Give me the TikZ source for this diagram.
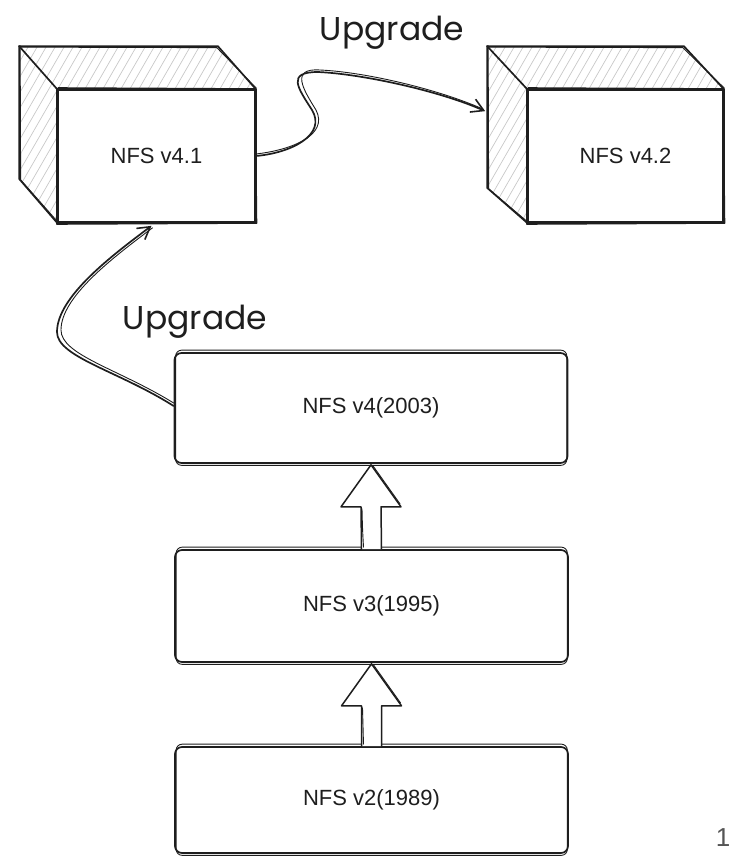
\documentclass[tikz,border=0pt]{standalone}
\usepackage{fontspec}
\setmainfont{Liberation Sans}
\newfontfamily\handfont{Poppins}
\usetikzlibrary{calc,arrows.meta}
\definecolor{ink}{HTML}{1E1E1E}
\definecolor{hatchgray}{HTML}{C8C8C8}
\definecolor{pagegray}{HTML}{555555}
\tikzset{
  pen/.style={draw=ink, line width=1.7pt, line join=round, line cap=round},
  penthin/.style={draw=ink, line width=0.9pt, line join=round, line cap=round},
  boxtext/.style={font=\fontsize{22}{26}\selectfont, text=ink},
  face/.style={pen, fill=white, boxtext, minimum width=197pt, minimum height=132pt, inner sep=0pt},
  stage/.style={pen, rounded corners=7pt, fill=white, boxtext, minimum width=393pt, minimum height=110pt, inner sep=0pt},
  hatchline/.style={draw=hatchgray, line width=0.7pt},
  handlabel/.style={font=\handfont\fontsize{33}{40}\selectfont, text=ink},
  flow/.style={pen, -{Straight Barb[length=12pt,width=14pt,line width=1.6pt]}},
  flowecho/.style={penthin},
  blockarrow/.style={pen, fill=white, line width=1.5pt},
}
\begin{document}
\begin{tikzpicture}[x=1pt,y=-1pt]
\useasboundingbox (0,0) rectangle (733,857);

% ---------- cube faces (front faces are nodes) ----------
\node[face] (v41) at (156.5,156) {};
\node[face, minimum width=195pt] (v42) at (625.5,156) {};

% back corners of the two cubes
\coordinate (a1) at ($(v41.north west)+(-38,-43)$);
\coordinate (b1) at ($(v41.north east)+(-38,-43)$);
\coordinate (c1) at ($(v41.south west)+(-38,-44)$);
\coordinate (a2) at ($(v42.north west)+(-40,-43)$);
\coordinate (b2) at ($(v42.north east)+(-40,-43)$);
\coordinate (c2) at ($(v42.south west)+(-40,-35)$);

% hatching of the top and side faces
\begin{scope}
  \clip (a1) -- (b1) -- (v41.north east) -- (v41.north west) -- cycle
        (a1) -- (v41.north west) -- (v41.south west) -- (c1) -- cycle
        (a2) -- (b2) -- (v42.north east) -- (v42.north west) -- cycle
        (a2) -- (v42.north west) -- (v42.south west) -- (c2) -- cycle;
  \foreach \i in {-170,-161,...,760}
    \draw[hatchline] (\i,250) -- ++(150,-260);
\end{scope}

% cube outlines, drawn twice for a sketched stroke
\foreach \c/\a/\b/\d in {v41/a1/b1/c1, v42/a2/b2/c2}{
  \draw[pen] (\a) -- (\b) -- (\c.north east);
  \draw[pen] (\a) -- (\c.north west);
  \draw[pen] (\a) -- (\d) -- (\c.south west);
  \draw[penthin] ($(\a)+(1.5,1)$) -- ($(\b)+(-1,1.5)$) -- ($(\c.north east)+(0.5,-1)$);
  \draw[penthin] ($(\a)+(1,-0.5)$) -- ($(\d)+(1.5,1)$) -- ($(\c.south west)+(1,-0.5)$);
  \draw[pen] (\c.north west) rectangle (\c.south east);
  \draw[penthin] ($(\c.north west)+(1,-1.5)$) -- ($(\c.north east)+(-0.5,-0.5)$) -- ($(\c.south east)+(1,0.5)$) -- ($(\c.south west)+(-0.5,1.5)$) -- cycle;
}
\node[boxtext] at (v41) {NFS v4.1};
\node[boxtext] at (v42) {NFS v4.2};

% ---------- version stages ----------
\node[stage] (v4) at (371,408) {NFS v4(2003)};
\node[stage, minimum height=112pt] (v3) at (371.5,606) {NFS v3(1995)};
\node[stage, minimum height=106pt] (v2) at (371.5,800) {NFS v2(1989)};
\foreach \s in {v4,v3,v2}
  \draw[penthin, rounded corners=6pt] ($(\s.north west)+(2,-2)$) rectangle ($(\s.south east)+(-1.5,1.5)$);

% ---------- block arrows between stages ----------
\foreach \lo/\hi in {v3/v4, v2/v3}{
  \draw[blockarrow]
    ($(\lo.north)+(-10,0)$) -- ($(\hi.south)+(-10,43)$) -- ($(\hi.south)+(-30,43)$)
    -- ($(\hi.south)+(0,1)$) -- ($(\hi.south)+(30,43)$) -- ($(\hi.south)+(10,43)$)
    -- ($(\lo.north)+(10,0)$);
  \draw[penthin] ($(\hi.south)+(2,2)$) -- ($(\hi.south)+(29,40)$);
  \draw[penthin] ($(\lo.north)+(-8,-2)$) .. controls ($(\lo.north)+(-9,-20)$) .. ($(\hi.south)+(-9,45)$);
}

% ---------- curved upgrade connectors ----------
\coordinate (t42) at ($(a2)+(-2,65)$);
\draw[flow] (v41.east) .. controls +(35,-3) and +(15,25) .. (312,110)
  .. controls +(-14,-22) and +(-32,0) .. (318,72)
  .. controls +(45,2) and +(-45,-20) .. (t42);
\draw[flowecho] ($(v41.east)+(0,-2)$) .. controls +(36,-4) and +(13,25) .. (316,110)
  .. controls +(-13,-21) and +(-30,-2) .. (320,70)
  .. controls +(45,2) and +(-45,-20) .. ($(t42)+(-2,-2)$);

\coordinate (t41) at ($(v41.south)+(-5,3)$);
\draw[flow] ($(v4.west)+(0,-2)$) .. controls +(-55,-35) and +(0,25) .. (57,332)
  .. controls +(0,-35) and +(-40,30) .. (t41);
\draw[flowecho] ($(v4.west)+(0,-5)$) .. controls +(-55,-34) and +(0,25) .. (61,330)
  .. controls +(0,-33) and +(-40,30) .. ($(t41)+(1,2)$);

% ---------- labels ----------
\node[handlabel] (up1) at (392,33) {Upgrade};
\node[handlabel] (up2) at (195,322) {Upgrade};

% page number
\node[font=\fontsize{26}{30}\selectfont, text=pagegray] (pagenum) at (723,838) {1};
\end{tikzpicture}
\end{document}
